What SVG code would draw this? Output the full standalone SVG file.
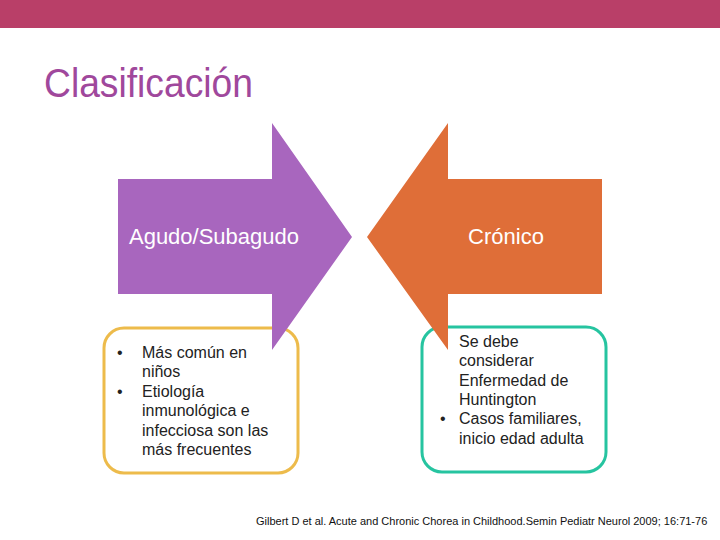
<svg xmlns="http://www.w3.org/2000/svg" width="720" height="540" viewBox="0 0 720 540">
<style>
text{font-family:"Liberation Sans",Arial,sans-serif}
.lbl{fill:#ffffff;font-size:22px;text-anchor:middle}
.item{fill:#222222;font-size:16px}
.box{fill:#ffffff;stroke-width:3}
</style>
<rect x="0" y="0" width="720" height="540" fill="#ffffff"/>
<rect x="0" y="0" width="720" height="28" fill="#B93F68"/>
<text x="44" y="97" font-size="41" fill="#A0489C" textLength="209" lengthAdjust="spacingAndGlyphs">Clasificación</text>
<g id="box-agudo">
<rect class="box" x="104" y="328" width="194" height="145" rx="20" stroke="#EDBB4B"/>
<text class="item"><tspan x="117" y="358">•</tspan><tspan x="142" y="358">Más común en</tspan><tspan x="142" y="377">niños</tspan><tspan x="117" y="397">•</tspan><tspan x="142" y="397">Etiología</tspan><tspan x="142" y="416">inmunológica e</tspan><tspan x="142" y="436">infecciosa son las</tspan><tspan x="142" y="455">más frecuentes</tspan></text>
</g>
<g id="box-cronico">
<rect class="box" x="422" y="327" width="184" height="145" rx="20" stroke="#26C4A0"/>
<text class="item"><tspan x="459" y="347">Se debe</tspan><tspan x="459" y="366">considerar</tspan><tspan x="459" y="386">Enfermedad de</tspan><tspan x="459" y="405">Huntington</tspan><tspan x="440" y="424">•</tspan><tspan x="459" y="424">Casos familiares,</tspan><tspan x="459" y="444">inicio edad adulta</tspan></text>
</g>
<g id="arrow-agudo">
<polygon points="118,179 272,179 272,123 352,237 272,350 272,294 118,294" fill="#A866BE"/>
<text class="lbl" x="214" y="244">Agudo/Subagudo</text>
</g>
<g id="arrow-cronico">
<polygon points="602,179 448,179 448,123 367,237 448,350 448,294 602,294" fill="#DF6E38"/>
<text class="lbl" x="506" y="244">Crónico</text>
</g>
<g id="connectors"/>
<text x="256" y="525" font-size="11" fill="#111111">Gilbert D et al. Acute and Chronic Chorea in Childhood.Semin Pediatr Neurol 2009; 16:71-76</text>
</svg>
